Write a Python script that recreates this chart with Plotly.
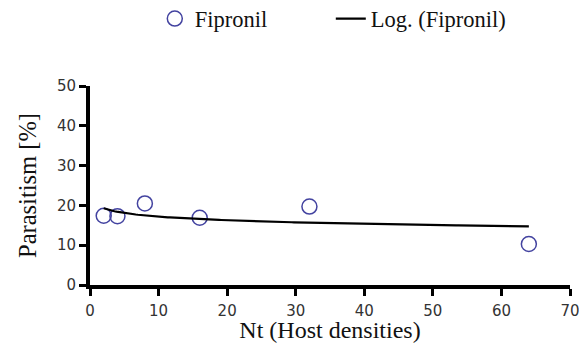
import numpy as np
import plotly.graph_objects as go

host_density = [2, 4, 8, 16, 32, 64]
parasitism = [17.4, 17.3, 20.5, 16.9, 19.7, 10.3]
x_ticks = [0, 10, 20, 30, 40, 50, 60, 70]
y_ticks = [0, 10, 20, 30, 40, 50]

# logarithmic trendline (least squares on ln x), as in the spreadsheet chart
b, a = np.polyfit(np.log(host_density), parasitism, 1)
trend_x = np.linspace(min(host_density), max(host_density), 200)
trend_y = a + b * np.log(trend_x)

SERIF = "Liberation Serif, Times New Roman, serif"
MARK = "#4343a0"

fig = go.Figure()
fig.add_trace(go.Scatter(
    x=host_density, y=parasitism, mode="markers", name="Fipronil",
    marker=dict(symbol="circle-open", size=15, color=MARK, line=dict(width=1.5, color=MARK)),
))
fig.add_trace(go.Scatter(
    x=trend_x, y=trend_y, mode="lines", name="Log. (Fipronil)",
    line=dict(color="black", width=2.2),
))

def axis_style(ticklen):
    return dict(
        showgrid=False, zeroline=False, showline=True, linecolor="black", linewidth=4,
        ticks="outside", tickcolor="black", tickwidth=3, ticklen=ticklen,
        tickfont=dict(family="DejaVu Sans", size=15, color="#333333"),
    )

# page body adds an 8px offset, so the figure is sized to the visible window
fig.update_layout(
    width=579, height=335,
    margin=dict(l=82, r=17, t=78, b=58, autoexpand=False),
    paper_bgcolor="white", plot_bgcolor="white",
    xaxis=dict(range=[0, 70], tickvals=x_ticks, ticklabelstandoff=2,
               title=dict(text="Nt (Host densities)", standoff=7,
                          font=dict(family=SERIF, size=24, color="#111111")),
               **axis_style(7)),
    yaxis=dict(range=[0, 50], tickvals=y_ticks,
               title=dict(text="Parasitism [%]", standoff=14,
                          font=dict(family=SERIF, size=24.5, color="#111111")),
               **axis_style(7)),
    legend=dict(orientation="h", x=0.135, xanchor="left", y=1.337, yanchor="middle",
                font=dict(family=SERIF, size=22.5, color="#111111"),
                entrywidth=131, entrywidthmode="pixels"),
    showlegend=True,
)
fig.write_html("out.html")
